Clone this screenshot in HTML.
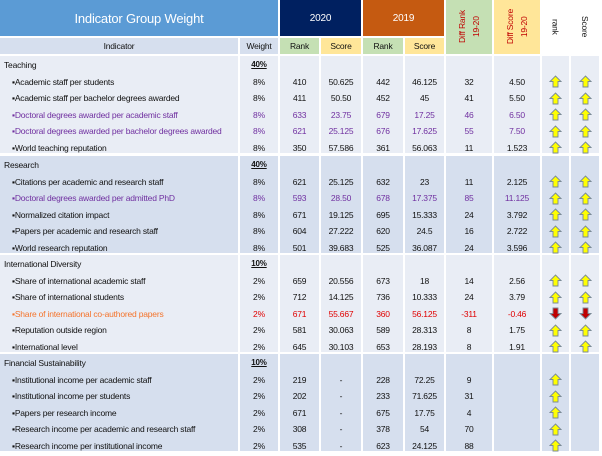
<!DOCTYPE html>
<html><head><meta charset="utf-8"><style>
body{margin:0;width:602px;height:456px;background:#fff;font-family:"Liberation Sans",sans-serif;overflow:hidden;position:relative}
.c{position:absolute;box-sizing:border-box;font-size:8.5px;color:#111;display:flex;align-items:center;justify-content:center;white-space:nowrap;letter-spacing:-0.2px}
.l{justify-content:flex-start}
.v{writing-mode:vertical-rl;transform:rotate(180deg)}
</style></head><body>
<div id="t"></div>
<script>
const cols=[[0,238],[240,278],[280,319],[321,361],[363,403],[405,444],[446,492],[494,540],[542,569],[571,599]];
const sections=[
 {name:"Teaching",w:"40%",y:56,bg:"#e9edf5",rows:[
  ["Academic staff per students","8%","410","50.625","442","46.125","32","4.50","u","u",""],
  ["Academic staff per bachelor degrees awarded","8%","411","50.50","452","45","41","5.50","u","u",""],
  ["Doctoral degrees awarded per academic staff","8%","633","23.75","679","17.25","46","6.50","u","u","p"],
  ["Doctoral degrees awarded per bachelor degrees awarded","8%","621","25.125","676","17.625","55","7.50","u","u","p"],
  ["World teaching reputation","8%","350","57.586","361","56.063","11","1.523","u","u",""]]},
 {name:"Research",w:"40%",y:156,bg:"#d6dfee",rows:[
  ["Citations per academic and research staff","8%","621","25.125","632","23","11","2.125","u","u",""],
  ["Doctoral degrees awarded per admitted PhD","8%","593","28.50","678","17.375","85","11.125","u","u","p"],
  ["Normalized citation impact","8%","671","19.125","695","15.333","24","3.792","u","u",""],
  ["Papers per academic and research staff","8%","604","27.222","620","24.5","16","2.722","u","u",""],
  ["World research reputation","8%","501","39.683","525","36.087","24","3.596","u","u",""]]},
 {name:"International Diversity",w:"10%",y:255,bg:"#e9edf5",rows:[
  ["Share of international academic staff","2%","659","20.556","673","18","14","2.56","u","u",""],
  ["Share of international students","2%","712","14.125","736","10.333","24","3.79","u","u",""],
  ["Share of international co-authored papers","2%","671","55.667","360","56.125","-311","-0.46","d","d","r"],
  ["Reputation outside region","2%","581","30.063","589","28.313","8","1.75","u","u",""],
  ["International level","2%","645","30.103","653","28.193","8","1.91","u","u",""]]},
 {name:"Financial Sustainability",w:"10%",y:354,bg:"#d6dfee",rows:[
  ["Institutional income per academic staff","2%","219","-","228","72.25","9","","u","",""],
  ["Institutional income per students","2%","202","-","233","71.625","31","","u","",""],
  ["Papers per research income","2%","671","-","675","17.75","4","","u","",""],
  ["Research income per academic and research staff","2%","308","-","378","54","70","","u","",""],
  ["Research income per institutional income","2%","535","-","623","24.125","88","","u","",""]]}
];
const t=document.getElementById('t');
function cell(x,y,w,h,bg,txt,cls,color,extra){
 const d=document.createElement('div');d.className='c '+(cls||'');
 d.style.cssText+=`left:${x}px;top:${y}px;width:${w}px;height:${h}px;background:${bg||'transparent'};color:${color||'#111'};`+(extra||'');
 d.innerHTML=txt;t.appendChild(d);return d;}
let d;
d=cell(0,0,278,36,'#5b9bd5','Indicator Group Weight','','#fff','font-size:13px');

d=cell(280,0,81,36,'#002060','2020','','#fff','font-size:10px');

d=cell(363,0,81,36,'#c55a11','2019','','#fff','font-size:10px');

d=cell(446,0,46,54,'#c5e0b4','<span class="v" style="color:#c00000;line-height:14px;text-align:center">Diff Rank<br>19-20</span>');

d=cell(494,0,46,54,'#ffe699','<span class="v" style="color:#c00000;line-height:14px;text-align:center">Diff Score<br>19-20</span>');

d=cell(542,0,27,54,'#fff','<span class="v" style="transform:none">rank</span>');

d=cell(571,0,28,54,'#fff','<span class="v" style="transform:none">Score</span>');

const sub=[['Indicator','#d6dfee'],['Weight','#d6dfee'],['Rank','#c5e0b4'],['Score','#ffe699'],['Rank','#c5e0b4'],['Score','#ffe699']];
sub.forEach((s,i)=>{const c=cols[i];
 d=cell(c[0],38,c[1]-c[0],16,s[1],s[0]);
 });
function arrow(up){
 return up?'<svg width="13" height="13" viewBox="0 0 13 13"><path d="M6.5 1 L12 6.5 L9 6.5 L9 12 L4 12 L4 6.5 L1 6.5Z" fill="#ffff00" stroke="#7a8a96" stroke-width="0.9"/></svg>'
 :'<svg width="13" height="13" viewBox="0 0 13 13"><path d="M6.5 12 L12 6.5 L9 6.5 L9 1 L4 1 L4 6.5 L1 6.5Z" fill="#c00000" stroke="#7a8a96" stroke-width="0.9"/></svg>';}
sections.forEach(s=>{
 cols.forEach(c=>{d=cell(c[0],s.y,c[1]-c[0],97,s.bg,'');
  });
 d=cell(4,s.y,200,17,'',s.name,'l');
 
 d=cell(240,s.y,38,17,'',s.w,'','#111','text-decoration:underline;font-weight:bold;font-size:8px');
 
 s.rows.forEach((r,ri)=>{
  const y=s.y+17.5+ri*16.6;
  const col=r[10]==='p'?'#7030a0':r[10]==='r'?'#e00000':'#111';
  d=cell(12,y,228,16,'','▪'+r[0],'l',r[10]==='r'?'#f4742c':col);
  
  for(let i=1;i<8;i++){const c=cols[i];
   d=cell(c[0],y,c[1]-c[0],16,'',r[i],'',col);
   }
  [8,9].forEach(i=>{if(!r[i])return;const c=cols[i];
   d=cell(c[0],y,c[1]-c[0],16,'',arrow(r[i]==='u'));
   });
 });
});
</script>
</body></html>
